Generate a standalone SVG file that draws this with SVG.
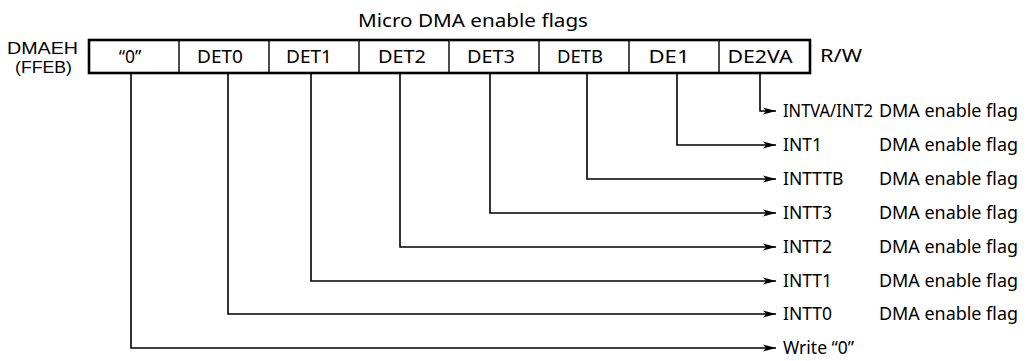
<svg xmlns="http://www.w3.org/2000/svg" width="1030" height="361" viewBox="0 0 1030 361">
<style>
text{font-family:"Noto Sans","Open Sans","Liberation Sans",sans-serif;fill:#000;font-size:17.5px}
.c{text-anchor:middle}
.reg{font-family:"Liberation Sans",Arial,sans-serif;font-size:16px}
.box{fill:#fff;stroke:#000;stroke-width:2.6}
.div{stroke:#000;stroke-width:1.4}
.conn{fill:none;stroke:#000;stroke-width:1.6}
</style>
<defs>
<marker id="ah" markerUnits="userSpaceOnUse" markerWidth="14" markerHeight="9" refX="13" refY="4" orient="auto">
<path d="M0,0.5 L13,4 L0,7.5 L3,4 Z" fill="#000"/>
</marker>
</defs>
<text id="title" x="473" y="27" class="c" style="font-size:18px" textLength="230" lengthAdjust="spacingAndGlyphs">Micro DMA enable flags</text>
<g id="reglabel">
<text class="reg" x="7" y="54" textLength="71" lengthAdjust="spacingAndGlyphs">DMAEH</text>
<text class="reg" x="15" y="73" textLength="57" lengthAdjust="spacingAndGlyphs">(FFEB)</text>
</g>
<g id="register">
<rect class="box" x="89" y="40" width="721" height="33"/>
<line class="div" x1="179" y1="40" x2="179" y2="73"/>
<line class="div" x1="269" y1="40" x2="269" y2="73"/>
<line class="div" x1="359" y1="40" x2="359" y2="73"/>
<line class="div" x1="449" y1="40" x2="449" y2="73"/>
<line class="div" x1="539" y1="40" x2="539" y2="73"/>
<line class="div" x1="629" y1="40" x2="629" y2="73"/>
<line class="div" x1="719" y1="40" x2="719" y2="73"/>
</g>
<g id="bit7"><text x="130" y="63" class="c">“0”</text></g>
<g id="bit6"><text x="220" y="63" class="c" textLength="46" lengthAdjust="spacingAndGlyphs">DET0</text></g>
<g id="bit5"><text x="309" y="63" class="c" textLength="46" lengthAdjust="spacingAndGlyphs">DET1</text></g>
<g id="bit4"><text x="402" y="63" class="c" textLength="48" lengthAdjust="spacingAndGlyphs">DET2</text></g>
<g id="bit3"><text x="491" y="63" class="c" textLength="48" lengthAdjust="spacingAndGlyphs">DET3</text></g>
<g id="bit2"><text x="580" y="63" class="c" textLength="46" lengthAdjust="spacingAndGlyphs">DETB</text></g>
<g id="bit1"><text x="669" y="63" class="c" textLength="41" lengthAdjust="spacingAndGlyphs">DE1</text></g>
<g id="bit0"><text x="760" y="63" class="c" textLength="65" lengthAdjust="spacingAndGlyphs">DE2VA</text></g>
<g id="rw"><text x="820" y="62" textLength="42" lengthAdjust="spacingAndGlyphs">R/W</text></g>
<g id="connectors">
<path class="conn" d="M760,73 V111 H776" marker-end="url(#ah)"/>
<path class="conn" d="M677,73 V145 H776" marker-end="url(#ah)"/>
<path class="conn" d="M587,73 V179 H776" marker-end="url(#ah)"/>
<path class="conn" d="M490,73 V213 H776" marker-end="url(#ah)"/>
<path class="conn" d="M400,73 V247 H776" marker-end="url(#ah)"/>
<path class="conn" d="M311,73 V281 H776" marker-end="url(#ah)"/>
<path class="conn" d="M228,73 V314 H776" marker-end="url(#ah)"/>
<path class="conn" d="M131,73 V348 H776" marker-end="url(#ah)"/>
</g>
<g id="out_intva"><text x="783" y="117" textLength="90" lengthAdjust="spacingAndGlyphs">INTVA/INT2</text><text x="879" y="117" textLength="139" lengthAdjust="spacingAndGlyphs">DMA enable flag</text></g>
<g id="out_int1"><text x="783" y="151">INT1</text><text x="879" y="151" textLength="139" lengthAdjust="spacingAndGlyphs">DMA enable flag</text></g>
<g id="out_intttb"><text x="783" y="185">INTTTB</text><text x="879" y="185" textLength="139" lengthAdjust="spacingAndGlyphs">DMA enable flag</text></g>
<g id="out_intt3"><text x="783" y="219">INTT3</text><text x="879" y="219" textLength="139" lengthAdjust="spacingAndGlyphs">DMA enable flag</text></g>
<g id="out_intt2"><text x="783" y="253">INTT2</text><text x="879" y="253" textLength="139" lengthAdjust="spacingAndGlyphs">DMA enable flag</text></g>
<g id="out_intt1"><text x="783" y="287">INTT1</text><text x="879" y="287" textLength="139" lengthAdjust="spacingAndGlyphs">DMA enable flag</text></g>
<g id="out_intt0"><text x="783" y="320">INTT0</text><text x="879" y="320" textLength="139" lengthAdjust="spacingAndGlyphs">DMA enable flag</text></g>
<g id="out_write"><text x="783" y="354">Write “0”</text></g>
</svg>
